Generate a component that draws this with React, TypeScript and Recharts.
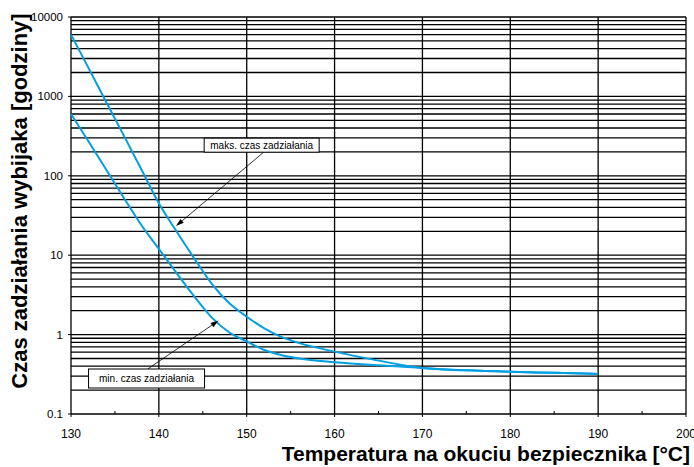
import { LineChart, Line, XAxis, YAxis, ReferenceDot, ReferenceLine, Label } from "recharts";

// temperature on the fitting [°C]
const TEMPS = [130, 132, 134, 136, 138, 140, 142, 144, 146, 148, 150, 152, 154, 156, 160, 165, 170, 175, 180, 185, 190];
// release time of the striker [hours]
const MAX_HOURS = [6000, 2270, 850, 323, 121, 45, 20, 9.2, 4.4, 2.5, 1.68, 1.2, 0.93, 0.78, 0.61, 0.47, 0.38, 0.355, 0.34, 0.33, 0.32];
const MIN_HOURS = [600, 270, 120, 53, 24, 12, 6.0, 3.05, 1.65, 1.07, 0.82, 0.64, 0.55, 0.5, 0.45, 0.41, 0.38, 0.355, 0.34, 0.33, 0.32];

const X_TICKS = [130, 135, 140, 145, 150, 155, 160, 165, 170, 175, 180, 185, 190, 195, 200];
const X_MAJOR = [130, 140, 150, 160, 170, 180, 190, 200];
const Y_TICKS = [0.1, 1, 10, 100, 1000, 10000];
const DECADES = [0.1, 1, 10, 100, 1000];
const STEPS = [1, 2, 3, 4, 5, 6, 7, 8, 9];

const MAX_NOTE = { text: "maks. czas zadziałania", box: [151.7, 243], from: [151.9, 197], to: [141.95, 23.3], w: 115, h: 14 };
const MIN_NOTE = { text: "min. czas zadziałania", box: [138.6, 0.28], from: [138.75, 0.37], to: [146.8, 1.5], w: 116, h: 19 };

const data = TEMPS.map((t, i) => ({ t, max: MAX_HOURS[i], min: MIN_HOURS[i] }));
const gridValues = [...DECADES.flatMap((d) => STEPS.map((s) => +(d * s).toPrecision(3))), 10000];

const FONT = "Arial, 'Liberation Sans', Helvetica, sans-serif";
const TICK_SIZE = 3;
const TICK_MARGIN = 12;

function XTick({ x, y, payload }: any) {
  const axisY = y - TICK_SIZE - TICK_MARGIN;
  const major = payload.value % 10 === 0;
  return (
    <g>
      <line x1={x} x2={x} y1={axisY} y2={major ? axisY + 3 : axisY - 3} stroke="#000" strokeWidth={1} />
      {major && (
        <text x={x} y={y} dy="0.71em" textAnchor="middle" fontSize={12} fontFamily={FONT} fill="#000">
          {payload.value}
        </text>
      )}
    </g>
  );
}

function NoteBox(text: string, w: number, h: number) {
  return ({ cx, cy }: any) => (
    <g>
      <rect x={cx - w / 2} y={cy - h / 2} width={w} height={h} fill="#fff" stroke="#000" strokeWidth={1} />
      <text x={cx} y={cy} dy="0.35em" textAnchor="middle" fontSize={10} fontFamily={FONT} fill="#000">
        {text}
      </text>
    </g>
  );
}

function Arrow({ x1, y1, x2, y2 }: any) {
  const a = Math.atan2(y2 - y1, x2 - x1);
  const len = 8;
  const half = 2.6;
  const bx = x2 - len * Math.cos(a);
  const by = y2 - len * Math.sin(a);
  const px = -Math.sin(a) * half;
  const py = Math.cos(a) * half;
  return (
    <g>
      <line x1={x1} y1={y1} x2={bx} y2={by} stroke="#000" strokeWidth={0.8} />
      <polygon points={`${x2},${y2} ${bx + px},${by + py} ${bx - px},${by - py}`} fill="#000" />
    </g>
  );
}

export default function App() {
  return (
    <div style={{ position: "absolute", left: 0, top: 0, background: "#fff" }}>
      <LineChart width={694} height={467} data={data} margin={{ top: 17, right: 8, left: 0, bottom: 0 }}>
        <XAxis
          dataKey="t"
          type="number"
          domain={[130, 200]}
          ticks={X_TICKS}
          height={53}
          tickSize={TICK_SIZE}
          tickMargin={TICK_MARGIN}
          tickLine={false}
          axisLine={false}
          tick={<XTick />}
          interval={0}
        >
          <Label
            content={() => (
              <text x={690} y={461} textAnchor="end" fontSize={21} fontWeight="bold" fontFamily={FONT} fill="#000">
                Temperatura na okuciu bezpiecznika [°C]
              </text>
            )}
          />
        </XAxis>
        <YAxis
          scale="log"
          domain={[0.1, 10000]}
          ticks={Y_TICKS}
          allowDataOverflow
          width={71}
          tickSize={3}
          tickMargin={5}
          axisLine={false}
          tickLine={{ stroke: "#000" }}
          tick={{ fontSize: 11.5, fontFamily: FONT, fill: "#000" }}
          tickFormatter={(v: number) => (v < 1 ? "0.1" : String(v))}
          interval={0}
        >
          <Label
            content={() => (
              <text
                x={27}
                y={201}
                transform="rotate(-90 27 201)"
                textAnchor="middle"
                fontSize={22}
                fontWeight="bold"
                fontFamily={FONT}
                fill="#000"
              >
                Czas zadziałania wybijaka [godziny]
              </text>
            )}
          />
        </YAxis>
        {gridValues.map((v) => (
          <ReferenceLine key={"h" + v} y={v} stroke="#000" strokeWidth={1.3} />
        ))}
        {X_MAJOR.map((v) => (
          <ReferenceLine key={"v" + v} x={v} stroke="#000" strokeWidth={1.3} />
        ))}
        <Line type="monotone" dataKey="max" stroke="#00A0E3" strokeWidth={2} dot={false} isAnimationActive={false} />
        <Line type="monotone" dataKey="min" stroke="#00A0E3" strokeWidth={2} dot={false} isAnimationActive={false} />
        {[MAX_NOTE, MIN_NOTE].map((n) => (
          <ReferenceLine
            key={n.text + "-arrow"}
            segment={[
              { x: n.from[0], y: n.from[1] },
              { x: n.to[0], y: n.to[1] },
            ]}
            shape={<Arrow />}
            ifOverflow="visible"
          />
        ))}
        {[MAX_NOTE, MIN_NOTE].map((n) => (
          <ReferenceDot
            key={n.text}
            x={n.box[0]}
            y={n.box[1]}
            ifOverflow="visible"
            shape={NoteBox(n.text, n.w, n.h)}
          />
        ))}
      </LineChart>
    </div>
  );
}
